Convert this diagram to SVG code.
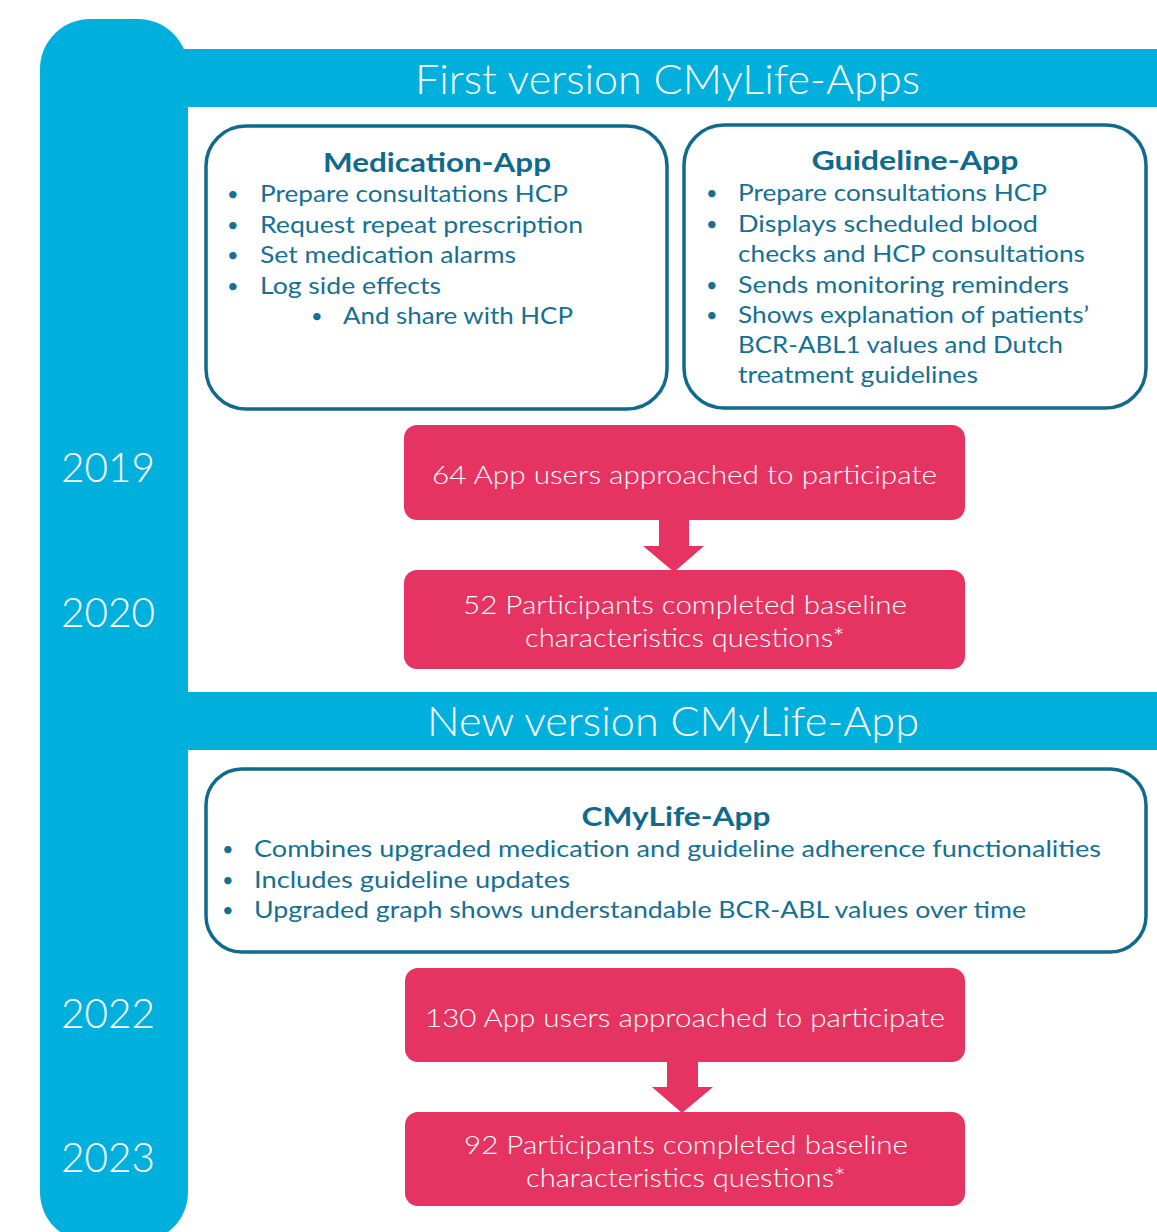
<svg xmlns="http://www.w3.org/2000/svg" width="1157" height="1232" viewBox="0 0 1157 1232">
  <style>
    text { font-family: Lato, "Open Sans", "Liberation Sans", sans-serif; }
    .band { fill: #00b0dc; }
    .head { fill: #ffffff; font-size: 41px; font-weight: 300; }
    .year { fill: #ffffff; font-size: 41px; font-weight: 300; }
    .card { fill: #ffffff; stroke: #0f6a8e; stroke-width: 3.5; }
    .title { fill: #0f6a8e; font-size: 27px; font-weight: 700; text-anchor: middle; }
    .item { fill: #157094; font-size: 24px; font-weight: 400; }
    .dot { fill: #157094; font-size: 20px; }
    .step { fill: #e53461; }
    .stepText { fill: #ffffff; font-size: 26px; font-weight: 300; }
    .arrow { fill: #e53461; }
  </style>

  <!-- timeline spine and section banners -->
  <g id="timeline">
    <rect class="band" x="40" y="19" width="148" height="1223" rx="50" ry="50"/>
    <rect class="band" x="160" y="49" width="997" height="58"/>
    <rect class="band" x="160" y="692" width="997" height="58"/>
    <text class="head" x="415" y="94" textLength="505" lengthAdjust="spacingAndGlyphs">First version CMyLife-Apps</text>
    <text class="head" x="427" y="736" textLength="492" lengthAdjust="spacingAndGlyphs">New version CMyLife-App</text>
    <text class="year" x="61" y="482" textLength="94" lengthAdjust="spacingAndGlyphs">2019</text>
    <text class="year" x="61" y="627" textLength="94" lengthAdjust="spacingAndGlyphs">2020</text>
    <text class="year" x="61" y="1028" textLength="94" lengthAdjust="spacingAndGlyphs">2022</text>
    <text class="year" x="61" y="1172" textLength="94" lengthAdjust="spacingAndGlyphs">2023</text>
  </g>

  <!-- Medication-App feature card -->
  <g id="medication-app">
    <rect class="card" x="206" y="126" width="461" height="283" rx="40" ry="40"/>
    <text class="title" x="437" y="172" textLength="228" lengthAdjust="spacingAndGlyphs">Medication-App</text>
    <text class="dot" x="227" y="201">•</text>
    <text class="item" x="260" y="202" textLength="308" lengthAdjust="spacingAndGlyphs">Prepare consultations HCP</text>
    <text class="dot" x="227" y="232">•</text>
    <text class="item" x="260" y="233" textLength="323" lengthAdjust="spacingAndGlyphs">Request repeat prescription</text>
    <text class="dot" x="227" y="262">•</text>
    <text class="item" x="260" y="263" textLength="256" lengthAdjust="spacingAndGlyphs">Set medication alarms</text>
    <text class="dot" x="227" y="293">•</text>
    <text class="item" x="260" y="294" textLength="181" lengthAdjust="spacingAndGlyphs">Log side effects</text>
    <text class="dot" x="311" y="323">•</text>
    <text class="item" x="343" y="324" textLength="230" lengthAdjust="spacingAndGlyphs">And share with HCP</text>
  </g>

  <!-- Guideline-App feature card -->
  <g id="guideline-app">
    <rect class="card" x="684" y="125" width="462" height="283" rx="40" ry="40"/>
    <text class="title" x="915" y="170" textLength="207" lengthAdjust="spacingAndGlyphs">Guideline-App</text>
    <text class="dot" x="706" y="200">•</text>
    <text class="item" x="738" y="201" textLength="309" lengthAdjust="spacingAndGlyphs">Prepare consultations HCP</text>
    <text class="dot" x="706" y="231">•</text>
    <text class="item" x="738" y="232" textLength="300" lengthAdjust="spacingAndGlyphs">Displays scheduled blood</text>
    <text class="item" x="738" y="262" textLength="347" lengthAdjust="spacingAndGlyphs">checks and HCP consultations</text>
    <text class="dot" x="706" y="292">•</text>
    <text class="item" x="738" y="293" textLength="331" lengthAdjust="spacingAndGlyphs">Sends monitoring reminders</text>
    <text class="dot" x="706" y="322">•</text>
    <text class="item" x="738" y="323" textLength="351" lengthAdjust="spacingAndGlyphs">Shows explanation of patients’</text>
    <text class="item" x="738" y="353" textLength="325" lengthAdjust="spacingAndGlyphs">BCR-ABL1 values and Dutch</text>
    <text class="item" x="738" y="383" textLength="240" lengthAdjust="spacingAndGlyphs">treatment guidelines</text>
  </g>

  <!-- first cohort steps -->
  <g id="approached-2019">
    <rect class="step" x="404" y="425" width="561" height="95" rx="13" ry="13"/>
    <text class="stepText" x="432" y="484" textLength="505" lengthAdjust="spacingAndGlyphs">64 App users approached to participate</text>
  </g>
  <g id="completed-2020">
    <rect class="step" x="404" y="570" width="561" height="99" rx="13" ry="13"/>
    <text class="stepText" x="463" y="614" textLength="444" lengthAdjust="spacingAndGlyphs">52 Participants completed baseline</text>
    <text class="stepText" x="525" y="647" textLength="320" lengthAdjust="spacingAndGlyphs">characteristics questions*</text>
  </g>

  <!-- CMyLife-App feature card -->
  <g id="cmylife-app">
    <rect class="card" x="206" y="769" width="940" height="183" rx="36" ry="36"/>
    <text class="title" x="676" y="826" textLength="189" lengthAdjust="spacingAndGlyphs">CMyLife-App</text>
    <text class="dot" x="222" y="856">•</text>
    <text class="item" x="254" y="857" textLength="847" lengthAdjust="spacingAndGlyphs">Combines upgraded medication and guideline adherence functionalities</text>
    <text class="dot" x="222" y="887">•</text>
    <text class="item" x="254" y="888" textLength="316" lengthAdjust="spacingAndGlyphs">Includes guideline updates</text>
    <text class="dot" x="222" y="917">•</text>
    <text class="item" x="254" y="918" textLength="772" lengthAdjust="spacingAndGlyphs">Upgraded graph shows understandable BCR-ABL values over time</text>
  </g>

  <!-- second cohort steps -->
  <g id="approached-2022">
    <rect class="step" x="405" y="968" width="560" height="94" rx="13" ry="13"/>
    <text class="stepText" x="425" y="1027" textLength="520" lengthAdjust="spacingAndGlyphs">130 App users approached to participate</text>
  </g>
  <g id="completed-2023">
    <rect class="step" x="405" y="1112" width="560" height="94" rx="13" ry="13"/>
    <text class="stepText" x="464" y="1154" textLength="444" lengthAdjust="spacingAndGlyphs">92 Participants completed baseline</text>
    <text class="stepText" x="526" y="1187" textLength="320" lengthAdjust="spacingAndGlyphs">characteristics questions*</text>
  </g>

  <!-- block arrows between steps -->
  <g id="connectors">
    <polygon class="arrow" points="659,519 689,519 689,546 704,546 674,572 643,546 659,546"/>
    <polygon class="arrow" points="667,1061 698,1061 698,1087 713,1087 682,1113 652,1087 667,1087"/>
  </g>
</svg>
